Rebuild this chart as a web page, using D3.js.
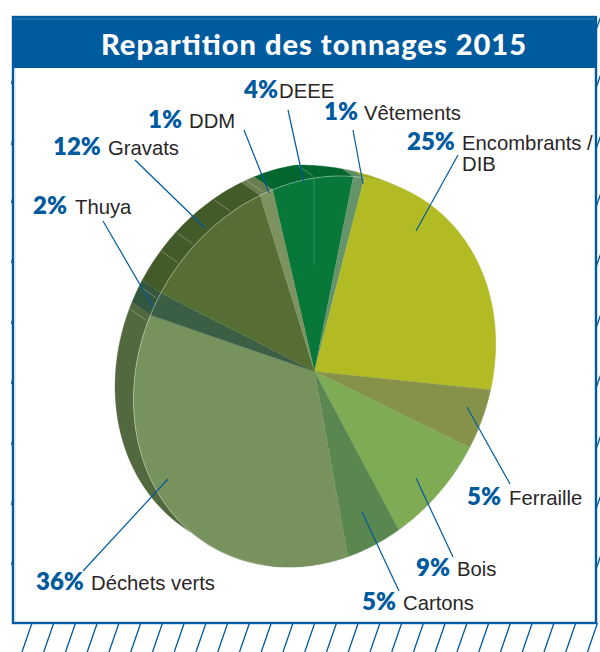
<!DOCTYPE html>
<html><head><meta charset="utf-8">
<script src="https://cdnjs.cloudflare.com/ajax/libs/d3/7.8.5/d3.min.js"></script>
<style>html,body{margin:0;padding:0;background:#fff}svg{display:block}</style>
</head><body>
<svg id="c" width="600" height="652"></svg>
<script>
// ---- data ----
const categories = ["DEEE","Vêtements","Encombrants / DIB","Ferraille","Bois","Cartons","Déchets verts","Thuya","Gravats","DDM"];
const percentLabels = [4,1,25,5,9,5,36,2,12,1];
// share of the full turn each slice actually occupies in the picture (degrees, before the tilt)
const drawnShares = [25.8,3.6,87.6,17.5,31.2,17.1,125.6,6.9,40.6,4.1];
const faceColors = ["#08773a","#65946b","#b3bb24","#86924a","#7fab55","#5a8750","#77925d","#3a5f45","#566e33","#7c9360"];
const rimColors  = ["#04662f","#5c8a62","#a6ac20","#78843f","#7fab55","#5a8750","#52683f","#33573f","#435a29","#697d4e"];
const rimSeams = [293,300,311.7,318.5,332.8,344,0.3];   // degrees
const titleText = "Repartition des tonnages 2015";

// ---- layout ----
const W=600,H=652, cx=314.5, cy=371.5, rx=181, ry=193.5, shear=-28, offX=-18.5, offY=-13;
const blue="#005a9e";
const frame={l:13,t:17,r:596,b:623,band:68};
const hatchStep=21.75, hatchCount=27;
const edgeTicks=[23,81,142,200,260,321,381,442,502,562];
const labelPos=[
 {p:[244,98],t:[279,98],l:[[288,110],[304,183]]},
 {p:[324,120],t:[364,120],l:[[353,130],[363,184]]},
 {p:[407,150],t:[462,150],l:[[458,155],[416,231]]},
 {p:[467,505],t:[509,505],l:[[467,407],[510,484]]},
 {p:[416,576],t:[457,576],l:[[416,478],[453,557]]},
 {p:[362,610],t:[403,610],l:[[362,512],[399,591]]},
 {p:[36,590],t:[91,590],l:[[83,571],[168,479]]},
 {p:[33,214],t:[75,214],l:[[103,221],[153,307]]},
 {p:[53,155],t:[108,155],l:[[135,160],[205,228]]},
 {p:[148,128],t:[189,128],l:[[244,130],[269,193]]}
];

const svg=d3.select("#c");
const sx=d3.scaleLinear().domain([-1,1]).range([cx-rx,cx+rx]);
const sy=d3.scaleLinear().domain([-1,1]).range([cy-ry,cy+ry]);
const pt=(a,ox=0,oy=0)=>[sx(Math.sin(a))+ox, sy(-Math.cos(a))+shear*Math.sin(a)+oy];
const rad=d=>d*Math.PI/180;
const start=rad(-13.4);
const arcs=d3.pie().sort(null).value(d=>d).startAngle(start).endAngle(start+2*Math.PI)(drawnShares);
const samples=(a,b)=>{const n=Math.max(2,Math.ceil((b-a)/0.02));return d3.range(n+1).map(i=>a+(b-a)*i/n);};
const line=d3.line();
// the rim thins out to nothing over the upper right of the pie
const rimFade=d3.scaleLinear().domain([rad(0),rad(30)]).range([1,0]).clamp(true);
const rimPt=a=>{const k=a>rad(180)?1:rimFade(a);return pt(a,offX*k,offY*k);};

// hatching behind the frame
const hatch=svg.append("g").attr("stroke",blue).attr("stroke-width",1.3).attr("fill","none");
hatch.selectAll("line.b").data(d3.range(hatchCount)).join("line")
  .attr("x1",k=>32+k*hatchStep).attr("y1",frame.b)
  .attr("x2",k=>22+k*hatchStep).attr("y2",H);
hatch.selectAll("line.r").data(edgeTicks).join("line")
  .attr("x1",601).attr("y1",d=>d-7).attr("x2",frame.r).attr("y2",d=>d+7);
hatch.selectAll("line.l").data(edgeTicks.slice(1)).join("line")
  .attr("x1",13).attr("y1",d=>d-3).attr("x2",11.5).attr("y2",d=>d+3);

// frame
svg.append("rect").attr("x",frame.l).attr("y",frame.t).attr("width",frame.r-frame.l).attr("height",frame.b-frame.t)
  .attr("fill","#fff").attr("stroke",blue).attr("stroke-width",2.4);
svg.append("line").attr("x1",frame.l+2).attr("x2",frame.l+2).attr("y1",frame.band).attr("y2",frame.b-1)
  .attr("stroke","#cfe0ee").attr("stroke-width",1);
svg.append("rect").attr("x",frame.l-1).attr("y",frame.t-1).attr("width",frame.r-frame.l+2).attr("height",frame.band-frame.t+1).attr("fill",blue);
svg.append("line").attr("x1",frame.l+1).attr("x2",frame.r-2).attr("y1",frame.t+2).attr("y2",frame.t+2)
  .attr("stroke","#5f93bd").attr("stroke-width",.7);
svg.append("text").attr("x",101).attr("y",55).attr("textLength",425).attr("lengthAdjust","spacing")
  .attr("font-family","Lato").attr("font-weight",900).attr("font-size",29).attr("fill","#fff").text(titleText);

// extruded rim
svg.append("g").selectAll("path").data(arcs).join("path")
  .attr("fill",(d,i)=>rimColors[i]).attr("stroke",(d,i)=>rimColors[i]).attr("stroke-width",.3)
  .attr("d",d=>{
    const s=samples(d.startAngle,d.endAngle);
    return line(s.map(a=>rimPt(a)).concat(s.slice().reverse().map(a=>pt(a))))+"Z";
  });
// seams on the rim
svg.append("g").attr("stroke","#fff").attr("stroke-opacity",.4).attr("stroke-width",.7)
  .selectAll("line").data(rimSeams).join("line")
  .attr("x1",d=>pt(rad(d),offX*.1,offY*.1)[0]).attr("y1",d=>pt(rad(d),offX*.1,offY*.1)[1])
  .attr("x2",d=>pt(rad(d),offX*.95,offY*.95)[0]).attr("y2",d=>pt(rad(d),offX*.95,offY*.95)[1]);

// faces
svg.append("g").selectAll("path").data(arcs).join("path")
  .attr("fill",(d,i)=>faceColors[i]).attr("stroke",(d,i)=>faceColors[i]).attr("stroke-width",.3)
  .attr("d",d=>line([[cx,cy]].concat(samples(d.startAngle,d.endAngle).map(a=>pt(a))))+"Z");
// light edge of the top face, where it meets the rim
svg.append("path").attr("fill","none").attr("stroke","#fff").attr("stroke-opacity",.45).attr("stroke-width",.8)
  .attr("d",line(samples(rad(195),rad(376)).map(a=>pt(a))));
// faint seam in the DEEE slice
svg.append("line").attr("x1",cx-.5).attr("x2",cx-.5).attr("y1",pt(0)[1]).attr("y2",265)
  .attr("stroke","#fff").attr("stroke-opacity",.22).attr("stroke-width",.8);

// leaders
svg.append("g").attr("stroke",blue).attr("stroke-width",1.2).selectAll("line").data(labelPos).join("line")
  .attr("x1",d=>d.l[0][0]).attr("y1",d=>d.l[0][1]).attr("x2",d=>d.l[1][0]).attr("y2",d=>d.l[1][1]);

// labels
const lab=svg.append("g");
categories.forEach((c,i)=>{
  const q=labelPos[i];
  lab.append("text").attr("x",q.p[0]).attr("y",q.p[1]).attr("font-family","Lato").attr("font-weight",800)
    .attr("font-size",24).attr("fill",blue).text(percentLabels[i]+"%");
  const parts=c==="Encombrants / DIB"?["Encombrants /","DIB"]:[c];
  parts.forEach((t,j)=>lab.append("text").attr("x",q.t[0]).attr("y",q.t[1]+j*21)
    .attr("font-family","Liberation Sans").attr("font-size",20.3).attr("fill","#2a2627").text(t));
});
</script>
</body></html>
